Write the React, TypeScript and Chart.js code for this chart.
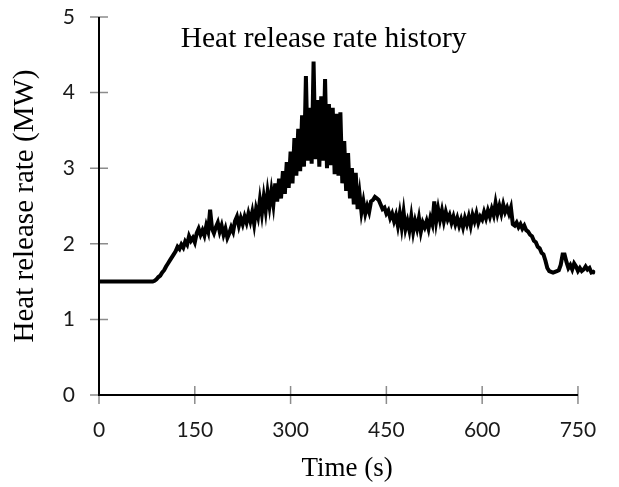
import { useEffect, useRef } from "react";
import { Chart, registerables } from "chart.js";

Chart.register(...registerables);

const TITLE = "Heat release rate history";
const X_LABEL = "Time (s)";
const Y_LABEL = "Heat release rate (MW)";
const X_TICKS = [0, 150, 300, 450, 600, 750];
const Y_TICKS = [0, 1, 2, 3, 4, 5];
const TIME_STEP = 3; // seconds between samples

// Heat release rate (MW), one sample every TIME_STEP seconds, starting at t = 0
const HRR = [
  1.5, 1.5, 1.5, 1.5, 1.5, 1.5, 1.5, 1.5, 1.5, 1.5,
  1.5, 1.5, 1.5, 1.5, 1.5, 1.5, 1.5, 1.5, 1.5, 1.5,
  1.5, 1.5, 1.5, 1.5, 1.5, 1.5, 1.5, 1.5, 1.5,
  1.51, 1.53, 1.56, 1.58, 1.62, 1.65, 1.7, 1.74, 1.78, 1.82,
  1.86, 1.9, 1.96, 1.93, 1.99, 1.95, 2.03, 1.99, 2.1, 2.04,
  2.08, 2.02, 2.14, 2.2, 2.12, 2.18, 2.11, 2.24, 2.16, 2.45,
  2.2, 2.14, 2.22, 2.28, 2.16, 2.24, 2.12, 2.2, 2.08, 2.14,
  2.22, 2.16, 2.3, 2.36, 2.24, 2.34, 2.26, 2.36, 2.28, 2.4,
  2.3, 2.42, 2.26, 2.46, 2.36, 2.58, 2.4, 2.62, 2.44, 2.68,
  2.5, 2.7, 2.52, 2.8, 2.56, 2.86, 2.6, 2.96, 2.66, 3.08,
  2.74, 3.22, 2.8, 3.4, 2.9, 3.52, 2.96, 3.7, 3.02, 4.22,
  3.1, 3.8, 3.06, 4.41, 3.12, 3.9, 3.02, 3.95, 3.1, 4.18,
  3.0, 3.85, 3.04, 3.8, 2.92, 3.72, 2.9, 3.74, 2.8, 3.36,
  2.7, 3.2, 2.6, 3.0, 2.52, 2.94, 2.46, 2.66, 2.42, 2.56,
  2.4, 2.5, 2.42, 2.56, 2.58, 2.62, 2.6, 2.58, 2.52, 2.46,
  2.48, 2.4, 2.44, 2.34, 2.4, 2.3, 2.38, 2.24, 2.4, 2.22,
  2.42, 2.2, 2.3, 2.18, 2.36, 2.16, 2.3, 2.2, 2.34, 2.16,
  2.28, 2.22, 2.3, 2.2, 2.34, 2.26, 2.56, 2.3, 2.46, 2.32,
  2.44, 2.3, 2.42, 2.32, 2.38, 2.28, 2.36, 2.26, 2.34, 2.24,
  2.32, 2.22, 2.34, 2.26, 2.36, 2.24, 2.38, 2.3, 2.4, 2.28,
  2.36, 2.32, 2.42, 2.34, 2.44, 2.36, 2.46, 2.38, 2.54, 2.4,
  2.5, 2.4, 2.52, 2.42, 2.48, 2.4, 2.48, 2.26, 2.24, 2.28,
  2.22, 2.26, 2.2, 2.24, 2.18, 2.16, 2.12, 2.1, 2.04, 2.02,
  1.96, 1.94, 1.88, 1.86, 1.78, 1.68, 1.64, 1.63, 1.62, 1.63,
  1.64, 1.65, 1.72, 1.86, 1.86, 1.76, 1.68, 1.72, 1.66, 1.74,
  1.7, 1.64, 1.68, 1.64, 1.66, 1.7, 1.66, 1.68, 1.62, 1.63,
  1.61,
];

const SERIF = "'Liberation Serif', 'Times New Roman', serif";
const SANS = "Lato, 'Noto Sans', sans-serif";

export default function App() {
  const ref = useRef<HTMLCanvasElement>(null);

  useEffect(() => {
    document.body.style.margin = "0";
    const canvas = ref.current;
    if (!canvas) return;

    const points = HRR.map((v, i) => ({ x: i * TIME_STEP, y: v }));
    const xAxisEnd = X_TICKS[X_TICKS.length - 1];
    const xDataEnd = (HRR.length - 1) * TIME_STEP;

    // axis lines (x axis ending at the last tick) and cross tick marks
    const axisAndTicks = {
      id: "axisAndTicks",
      beforeDatasetsDraw(chart: any) {
        const { ctx, chartArea, scales } = chart;
        const x0 = scales.x.getPixelForValue(X_TICKS[0]);
        const x1 = scales.x.getPixelForValue(xAxisEnd);
        const y0 = scales.y.getPixelForValue(Y_TICKS[0]);
        const y1 = scales.y.getPixelForValue(Y_TICKS[Y_TICKS.length - 1]);
        ctx.save();
        ctx.clearRect(x1 + 1, chartArea.bottom - 3, 40, 6);
        ctx.strokeStyle = "#8c8c8c";
        ctx.lineWidth = 1.5;
        ctx.beginPath();
        for (const t of X_TICKS) {
          const px = scales.x.getPixelForValue(t);
          ctx.moveTo(px, y0 - 9);
          ctx.lineTo(px, y0 + 9);
        }
        for (const t of Y_TICKS) {
          const py = scales.y.getPixelForValue(t);
          ctx.moveTo(x0 - 9, py);
          ctx.lineTo(x0 + 9, py);
        }
        ctx.stroke();
        ctx.strokeStyle = "#000";
        ctx.lineWidth = 2;
        ctx.beginPath();
        ctx.moveTo(x0, y1);
        ctx.lineTo(x0, y0);
        ctx.lineTo(x1, y0);
        ctx.stroke();
        ctx.restore();
      },
    };

    const innerTitle = {
      id: "innerTitle",
      afterDraw(chart: any) {
        const { ctx, chartArea, scales } = chart;
        ctx.save();
        ctx.font = `29.5px ${SERIF}`;
        ctx.fillStyle = "#000";
        ctx.textAlign = "center";
        ctx.textBaseline = "alphabetic";
        const left = scales.x.getPixelForValue(X_TICKS[0]);
        const right = scales.x.getPixelForValue(xAxisEnd);
        ctx.fillText(TITLE, left + (right - left) * 0.469, chartArea.top + 30);
        ctx.restore();
      },
    };

    const chart = new Chart(canvas, {
      type: "line",
      data: {
        datasets: [
          {
            data: points,
            borderColor: "#000",
            borderWidth: 4,
            pointRadius: 0,
            tension: 0,
          },
        ],
      },
      options: {
        animation: false,
        responsive: false,
        devicePixelRatio: 1,
        layout: { padding: { left: 0, right: 23.8, top: 17, bottom: 0 } },
        plugins: { legend: { display: false }, tooltip: { enabled: false }, title: { display: false } },
        scales: {
          x: {
            type: "linear",
            min: X_TICKS[0],
            max: xDataEnd,
            afterBuildTicks: (s: any) => {
              s.ticks = X_TICKS.map((v) => ({ value: v }));
            },
            afterFit: (s: any) => {
              s.height = 92;
              s.paddingLeft = 0;
              s.paddingRight = 0;
            },
            grid: { display: false, drawTicks: false, drawBorder: false } as any,
            border: { display: false, width: 0 },
            ticks: { padding: 23, color: "#1a1a1a", font: { family: SANS, size: 21 }, maxRotation: 0 },
            title: {
              display: true,
              text: X_LABEL,
              color: "#000",
              font: { family: SERIF, size: 27 },
              padding: { top: 0, bottom: 2 },
            },
          },
          y: {
            type: "linear",
            min: Y_TICKS[0],
            max: Y_TICKS[Y_TICKS.length - 1],
            afterBuildTicks: (s: any) => {
              s.ticks = Y_TICKS.map((v) => ({ value: v }));
            },
            afterFit: (s: any) => {
              s.width = 99;
              s.paddingTop = 0;
              s.paddingBottom = 0;
            },
            grid: { display: false, drawTicks: false, drawBorder: false } as any,
            border: { display: false, width: 0 },
            ticks: { padding: 24, color: "#1a1a1a", font: { family: SANS, size: 21 } },
            title: {
              display: true,
              text: Y_LABEL,
              color: "#000",
              font: { family: SERIF, size: 29 },
              padding: { top: 8, bottom: 0 },
            },
          },
        },
      },
      plugins: [axisAndTicks, innerTitle],
    });

    return () => chart.destroy();
  }, []);

  return (
    <div style={{ width: 619, height: 487 }}>
      <canvas ref={ref} width={619} height={487} style={{ display: "block" }} />
    </div>
  );
}
